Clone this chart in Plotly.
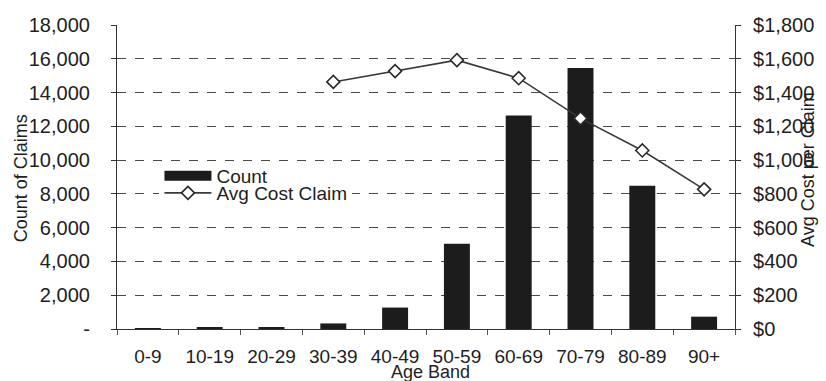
import plotly.graph_objects as go

age_bands = ["0-9", "10-19", "20-29", "30-39", "40-49", "50-59", "60-69", "70-79", "80-89", "90+"]
count_claims = [10, 60, 80, 330, 1270, 5050, 12640, 15460, 8480, 730]
avg_cost = [None, None, None, 1463, 1527, 1592, 1485, 1247, 1057, 827]

left_tickvals = [0, 2000, 4000, 6000, 8000, 10000, 12000, 14000, 16000, 18000]
left_ticktext = ["-", "2,000", "4,000", "6,000", "8,000", "10,000", "12,000", "14,000", "16,000", "18,000"]
right_tickvals = [0, 200, 400, 600, 800, 1000, 1200, 1400, 1600, 1800]
right_ticktext = ["$0", "$200", "$400", "$600", "$800", "$1,000", "$1,200", "$1,400", "$1,600", "$1,800"]

FONT = "Liberation Sans, Arial, sans-serif"
TXT = "#1e1e1e"
W, H = 826, 381
L, R, T, B = 117, 83, 25, 52
pw, ph = W - L - R, H - T - B

def px_x(px):
    return (px - L) / pw

def px_y(py):
    return (H - B - py) / ph

fig = go.Figure()
fig.add_trace(go.Bar(
    x=age_bands, y=count_claims, name="Count",
    marker=dict(color="#1c1c1c", line=dict(width=0)),
    showlegend=False, yaxis="y",
))
# legend swatch for the bar series (wide black rectangle)
fig.add_trace(go.Scatter(
    x=[None], y=[None], name="Count", mode="lines",
    line=dict(color="#1c1c1c", width=11), legend="legend2", hoverinfo="skip",
))
fig.add_trace(go.Scatter(
    x=age_bands, y=avg_cost, name="Avg Cost Claim", mode="lines+markers",
    line=dict(color="#3a3a3a", width=1.6),
    marker=dict(symbol="diamond", size=10, color="white", line=dict(color="#2a2a2a", width=1.6)),
    yaxis="y2", legend="legend",
))

axis_common = dict(
    showline=True, linecolor="#333", linewidth=1.2,
    tickfont=dict(family=FONT, size=20, color=TXT),
    ticks="outside", ticklen=5, tickcolor="#333",
)

fig.update_layout(
    width=W, height=H,
    margin=dict(l=L, r=R, t=T, b=B),
    paper_bgcolor="white", plot_bgcolor="white",
    bargap=0.58,
    font=dict(family=FONT, size=18, color=TXT),
    xaxis=dict(
        type="category", range=[-0.5, 9.5], tickson="boundaries",
        showline=True, linecolor="#333", linewidth=1.2,
        ticks="outside", ticklen=5, tickcolor="#555",
        tickfont=dict(family=FONT, size=19, color=TXT),
        ticklabelstandoff=10,
        showgrid=False,
    ),
    yaxis=dict(
        range=[0, 18000], tickvals=left_tickvals, ticktext=left_ticktext,
        showgrid=True, gridcolor="#4a4a4a", gridwidth=1, griddash="dash",
        zeroline=False, ticklabelstandoff=17, **axis_common,
    ),
    yaxis2=dict(
        range=[0, 1800], tickvals=right_tickvals, ticktext=right_ticktext,
        overlaying="y", side="right", showgrid=False, zeroline=False,
        ticklabelstandoff=8, **axis_common,
    ),
    legend=dict(
        x=px_x(160), y=px_y(193), xanchor="left", yanchor="middle",
        bgcolor="white", borderwidth=0, font=dict(family=FONT, size=19, color=TXT),
        itemwidth=47, tracegroupgap=0,
    ),
    legend2=dict(
        x=px_x(160), y=px_y(176), xanchor="left", yanchor="middle",
        bgcolor="rgba(0,0,0,0)", borderwidth=0, font=dict(family=FONT, size=19, color=TXT),
        itemwidth=47, tracegroupgap=0,
    ),
    annotations=[
        dict(text="Count of Claims", textangle=-90, x=px_x(20), y=px_y(178),
             xref="paper", yref="paper", showarrow=False, xanchor="center", yanchor="middle",
             font=dict(family=FONT, size=18, color=TXT)),
        dict(text="Avg Cost per Claim", textangle=-90, x=px_x(817), y=px_y(170),
             xref="paper", yref="paper", showarrow=False, xanchor="center", yanchor="middle",
             font=dict(family=FONT, size=18, color=TXT)),
        dict(text="Age Band", x=px_x(435), y=px_y(372),
             xref="paper", yref="paper", showarrow=False, xanchor="center", yanchor="middle",
             font=dict(family=FONT, size=18, color=TXT)),
    ],
)

fig.write_html("out.html")
